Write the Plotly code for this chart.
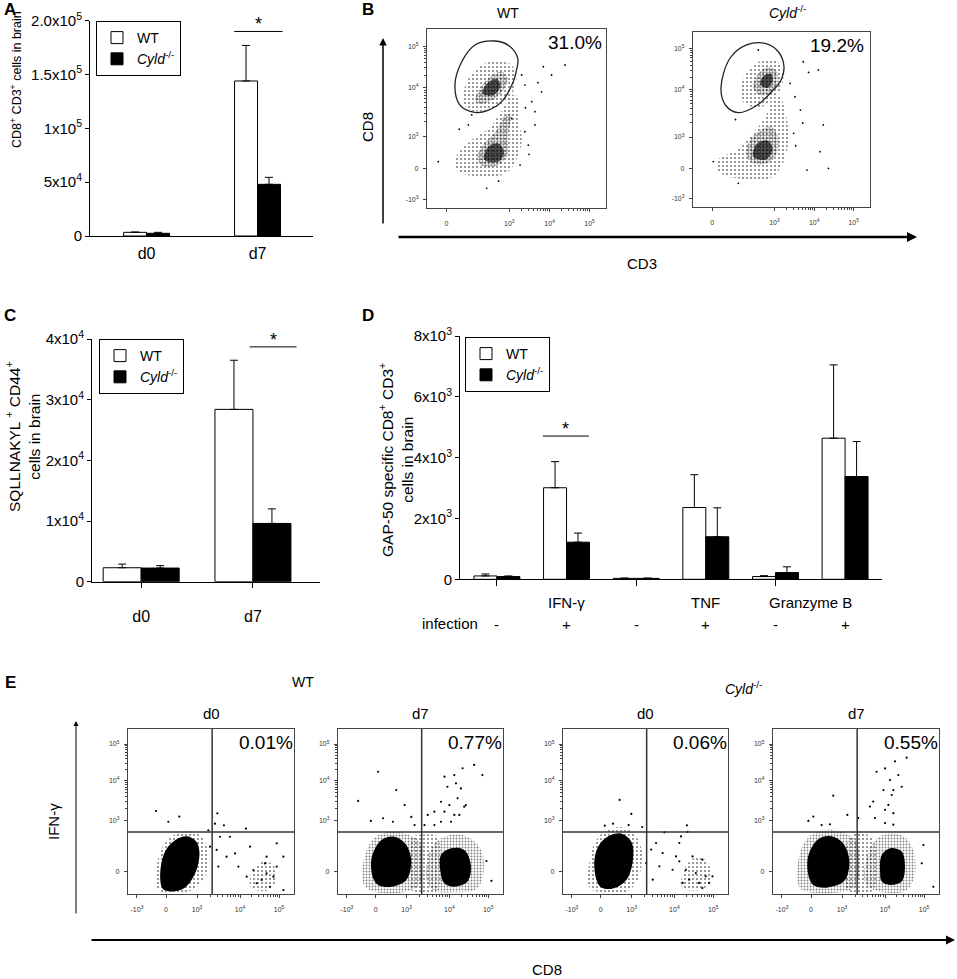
import math
import plotly.graph_objects as go

W, H = 957, 979
FONT = 'Arial, Liberation Sans, sans-serif'

# =============================================================================
# DATA - bar panels
# =============================================================================
days = ['d0', 'd7']

# A: CD8+ CD3+ cells in brain
a_wt = [3400, 144000]
a_wt_err = [300, 33000]
a_ko = [2500, 48000]
a_ko_err = [900, 6500]

# C: SQLLNAKYL+ CD44+ cells in brain
c_wt = [2300, 28400]
c_wt_err = [600, 8100]
c_ko = [2250, 9600]
c_ko_err = [400, 2400]

# D: GAP-50 specific CD8+ CD3+ cells in brain
d_infection = ['-', '+', '-', '+', '-', '+']
d_cytokines = ['IFN-γ', 'TNF', 'Granzyme B']
d_wt = [110, 3010, 30, 2360, 90, 4640]
d_wt_err = [65, 860, 10, 1080, 30, 2410]
d_ko = [90, 1220, 30, 1400, 220, 3380]
d_ko_err = [20, 300, 10, 950, 190, 1150]

# =============================================================================
# DATA - flow plots (channel units 0-100)
# =============================================================================
b_xticks = [10.8, 46.0, 68.5, 90.8]
b_xtick_text = ['0', '10<sup>3</sup>', '10<sup>4</sup>', '10<sup>5</sup>']
b_yticks = [4.8, 22.2, 40.0, 67.1, 90.4]
b_ytick_text = ['-10<sup>3</sup>', '0', '10<sup>3</sup>', '10<sup>4</sup>', '10<sup>5</sup>']

e_xticks = [5.4, 22.9, 41.6, 67.5, 91.0]
e_xtick_text = ['-10<sup>3</sup>', '0', '10<sup>3</sup>', '10<sup>4</sup>', '10<sup>5</sup>']
e_yticks = [13.9, 44.8, 68.5, 90.9]
e_ytick_text = ['0', '10<sup>3</sup>', '10<sup>4</sup>', '10<sup>5</sup>']
e_quadrant = (50.7, 37.6)

# B, WT
b_wt_gate = [(38, 93.3), (46, 90.5), (50.7, 83.6), (50, 77), (48.2, 70.6), (41.7, 59.4),
             (34, 54.5), (26.8, 53.4), (18.4, 57.5), (15.6, 68.7), (19.4, 81.7), (26.8, 91.1)]
b_wt_cd8_halo = [(20, 60), (22, 70), (28, 78), (37, 82), (47, 80), (50, 73), (47, 63),
                 (40, 57), (30, 54), (23, 55)]
b_wt_cd8_core = [(27, 60), (30, 67), (36, 74), (42, 76), (45, 72), (42, 65), (36, 60), (30, 58)]
b_wt_cd8_inner = [(31, 64), (34, 70), (39, 72), (41, 68), (37, 63)]
b_wt_neg_halo = [(15.6, 24), (17, 30), (25, 38), (35, 45), (42, 55), (47, 63), (51, 62),
                 (51, 50), (53, 38), (50, 27), (45, 20), (35, 17), (25, 18), (18, 20)]
b_wt_neg_core = [(28, 28), (32, 36), (38, 42), (44, 52), (47, 52), (45, 40), (45, 30),
                 (40, 24), (32, 23)]
b_wt_neg_inner = [(32, 27), (34, 34), (40, 36), (43, 31), (40, 26)]
b_wt_dots = [(65, 78.9), (69.6, 74.3), (77.1, 79.9), (54.7, 68.7), (58.5, 59.4), (60.3, 53.8),
             (54.7, 42.6), (56.6, 35.1), (52, 24), (33.3, 11), (6.3, 25.9), (23.1, 46.4),
             (25, 52), (52.9, 74.3), (64, 64.9), (47.3, 50), (60.3, 46.4), (57, 30),
             (55, 56), (62, 70), (18, 44), (40, 15)]

# B, Cyld-/-
b_ko_gate = [(40.7, 93.5), (48, 89), (51.4, 80.2), (49.5, 72), (45.4, 66.9), (36, 58),
             (25.6, 53.9), (18.5, 58), (15.8, 67.8), (20.9, 85), (30.3, 92.6)]
b_ko_cd8_halo = [(27, 62), (28, 72), (33, 80), (40, 84), (48, 83), (51, 76), (49, 66),
                 (43, 59), (34, 57)]
b_ko_cd8_core = [(34, 68), (36, 75), (42, 80), (47, 78), (48, 71), (44, 65), (38, 64)]
b_ko_cd8_inner = [(38, 70), (40, 75), (44, 76), (45, 72), (42, 68)]
b_ko_neg_halo = [(13.4, 22), (15, 28), (24, 32), (32, 40), (40, 50), (45, 60), (49, 63),
                 (52, 55), (54, 42), (52, 28), (46, 18), (38, 15), (28, 16), (18, 18)]
b_ko_neg_core = [(30, 30), (32, 38), (37, 43), (44, 46), (48, 40), (47, 30), (42, 25), (34, 25)]
b_ko_neg_inner = [(34, 29), (36, 36), (42, 38), (45, 33), (41, 27)]
b_ko_dots = [(62.3, 83), (70.8, 78.3), (65.3, 76.9), (73.6, 46.9), (71.7, 31.6), (76.5, 22.1),
             (64.4, 21.1), (56.9, 42.1), (60.7, 55.4), (54.9, 70.6), (25.6, 13.5),
             (11.5, 25.9), (36.9, 89.7), (57.6, 63), (58, 35), (62, 48), (24, 50)]

# E, WT d0
e_wt0_core = [(19.5, 8), (20, 18), (23, 27), (29, 33), (35.5, 35), (41, 32), (43, 26),
              (42, 17), (38, 8), (33, 3), (26, 1.5), (21, 3)]
e_wt0_halo = [(17, 5), (17.5, 18), (21, 29), (28, 36), (36, 38), (43, 36), (47, 30),
              (49, 22), (46, 10), (40, 3), (30, 0.5), (20, 0.8)]
e_wt0_cd8 = [(74, 4), (75, 14), (82, 20), (88, 17), (89, 8), (84, 2)]
e_wt0_dots = [(16.9, 50.3), (30.9, 46.9), (53.8, 48.9), (24.3, 43.8), (52.4, 42.6),
              (57.8, 41.6), (71.1, 39.6), (55.4, 34.7), (61.4, 34.7), (53.4, 26.7),
              (59.4, 22.6), (54.4, 16.6), (64.5, 24.6), (73.5, 28.7), (89.6, 30.7),
              (93.6, 22.6), (83.5, 22.6), (75.5, 14.5), (80.5, 8.5), (83.5, 12.5),
              (87.6, 10.5), (77.5, 6.5), (85.5, 4.4), (82.5, 18.5), (71.5, 10.5),
              (89.6, 16.6), (93.6, 2.4), (66.5, 16.6), (49.4, 28.7), (48.4, 38.6)]

# E, WT d7
e_wt7_core_l = [(21.3, 9.5), (20.3, 21.6), (26.3, 32.7), (34.3, 34.7), (41.4, 29.7),
                (44.4, 19.6), (41.4, 8.5), (32.3, 4.4), (24.3, 5.5)]
e_wt7_halo_l = [(16, 5), (16, 22), (22, 34), (33, 38), (42, 36), (49, 32), (51, 20),
                (50, 6), (40, 1), (25, 0.8)]
e_wt7_core_r = [(62.1, 13.5), (62.4, 23.6), (68.5, 27.7), (76.5, 26.7), (80.5, 17.6),
                (78.5, 7.5), (70.5, 4.4), (64.4, 6.5)]
e_wt7_halo_r = [(54, 8), (55, 24), (60, 32), (70, 36), (80, 34), (87, 26), (88, 12),
                (84, 3), (70, 1), (58, 2)]
e_wt7_mid = [(45, 2), (45, 34), (52, 36), (60, 35), (62, 20), (60, 2)]
e_wt7_dots = [(64.5, 71.1), (70.5, 72.1), (71.5, 67.1), (66.3, 65.0), (74.5, 64.0),
              (62.4, 55.9), (67.5, 53.9), (72.5, 58.0), (76.5, 52.9), (58.4, 49.9),
              (54.4, 47.9), (64.5, 49.9), (70.5, 47.9), (68.5, 43.8), (73.5, 47.9),
              (77.5, 53.9), (82.5, 78.2), (87.5, 72.1), (75.5, 76.2), (62.4, 43.8),
              (58.4, 41.8), (52.4, 41.8), (24.3, 74.1), (35.3, 63.0), (12.2, 56.4),
              (40.4, 53.9), (27.3, 45.9), (19.9, 44.3), (33.3, 43.8), (44.4, 46.7),
              (46.4, 41.8), (90, 20), (93, 8)]

# E, Cyld-/- d0
e_ko0_core = [(20.3, 8.5), (19.3, 22.6), (24.3, 32.7), (34.3, 36.8), (41.4, 31.7),
              (42.4, 20.6), (38.4, 8.5), (30.3, 3.4), (23.3, 4.0)]
e_ko0_halo = [(16, 4), (16.5, 22), (21, 34), (30, 40), (38, 40), (45, 34), (48, 24),
              (45, 8), (38, 1), (25, 0.8)]
e_ko0_cd8 = [(72, 4), (74, 16), (80, 22), (87, 20), (90, 10), (85, 3)]
e_ko0_dots = [(34.3, 57), (41.4, 48.5), (25.3, 41.4), (30.3, 42.6), (39.8, 41.8),
              (48, 40.6), (75.1, 41.6), (75.5, 37.6), (61.4, 37.4), (71.5, 34.9),
              (70.5, 30.9), (56.4, 30.9), (53.4, 26.9), (60.4, 24.8), (68.5, 22.8),
              (70.5, 19.8), (78.5, 22.8), (84.5, 20.8), (74.5, 14.7), (80.5, 12.7),
              (86.5, 10.7), (88.6, 6.7), (82.5, 6.7), (76.5, 8.7), (66.4, 14.7),
              (54.4, 8.7), (90.6, 10.7), (84.5, 3.6), (58.4, 16.8), (72.5, 6.7),
              (50.4, 18.8)]

# E, Cyld-/- d7
e_ko7_core_l = [(22, 9), (21, 22), (27, 33), (35, 35), (42, 31), (46, 20), (43, 8),
                (33, 4), (25, 5)]
e_ko7_halo_l = [(16, 4), (16, 24), (22, 35), (33, 39), (43, 37), (50, 32), (52, 20),
                (50, 5), (40, 1), (25, 0.8)]
e_ko7_core_r = [(64.5, 13.5), (65.5, 23.6), (70.5, 27.7), (77.5, 25.7), (79.5, 16.6),
                (77.5, 7.5), (70.5, 5.5), (65.5, 7.5)]
e_ko7_halo_r = [(56, 6), (57, 24), (62, 33), (71, 37), (80, 34), (85, 25), (85, 10),
                (80, 2), (66, 1)]
e_ko7_mid = [(45, 2), (46, 34), (52, 37), (60, 34), (62, 18), (60, 2)]
e_ko7_dots = [(80.5, 82.6), (73.5, 80.4), (62.4, 74.1), (67.5, 76.1), (75.5, 72.1),
              (70.5, 69.1), (77.5, 65), (66.5, 63), (72.5, 63), (71.5, 60), (60.4, 56),
              (69.5, 54), (58.4, 53), (67.5, 51), (72.5, 49), (61.4, 46), (67.5, 43),
              (72.5, 42), (51.4, 46), (36.3, 59.6), (24.3, 46.9), (21.3, 44.3),
              (44.8, 47.9), (34.3, 42.2), (29.3, 41.8), (90.6, 29.7), (89.6, 18.6),
              (96.6, 4.4)]

# =============================================================================
# HELPERS
# =============================================================================
def px(x):
    return x / W


def py(y):
    return 1 - y / H


layout_axes = {}
annotations = []
shapes = []


def ann(text, x, y, size=14, **kw):
    d = dict(text=text, x=px(x), y=py(y), xref='paper', yref='paper', showarrow=False,
             xanchor='center', yanchor='middle',
             font=dict(size=size, family=FONT, color='black'))
    d.update(kw)
    annotations.append(d)


def arrow(x_head, y_head, ax, ay, width, size):
    annotations.append(dict(x=px(x_head), y=py(y_head), xref='paper', yref='paper',
                            ax=ax, ay=ay, showarrow=True, arrowhead=2, arrowsize=size,
                            arrowwidth=width, arrowcolor='black', text=''))


def bar_axes(n, box, xrange, yrange, ytickvals, ytick_text, xtick_kw):
    left, right, top, bottom = box
    key = '' if n == 1 else str(n)
    layout_axes[f'xaxis{key}'] = dict(
        domain=[px(left), px(right)], anchor=f'y{key}', range=xrange, automargin=False,
        showline=True, linecolor='black', linewidth=1, showgrid=False, zeroline=False,
        tickfont=dict(size=16, family=FONT, color='black'), **xtick_kw)
    layout_axes[f'yaxis{key}'] = dict(
        domain=[py(bottom), py(top)], anchor=f'x{key}', range=yrange, automargin=False,
        showline=True, linecolor='black', linewidth=1, showgrid=False, zeroline=False,
        ticks='outside', ticklen=4, tickcolor='black',
        tickvals=ytickvals, ticktext=ytick_text,
        tickfont=dict(size=15, family=FONT, color='black'))


def add_bars(fig, n, wt, wt_err, ko, ko_err, width, legend):
    key = '' if n == 1 else str(n)
    pos = list(range(len(wt)))
    for vals, err, name, color, off in [
        (wt, wt_err, 'WT', 'white', -width),
        (ko, ko_err, '<i>Cyld</i><sup>-/-</sup>', 'black', 0),
    ]:
        fig.add_trace(go.Bar(
            x=pos, y=vals, width=width, offset=off, name=name,
            marker=dict(color=color, line=dict(color='black', width=1)),
            error_y=dict(type='data', array=err, arrayminus=[0] * len(err), symmetric=False,
                         color='black', thickness=1, width=4),
            xaxis=f'x{key}', yaxis=f'y{key}', legend=legend, hoverinfo='skip'))


def sig_bar(n, x0, x1, y):
    key = '' if n == 1 else str(n)
    shapes.append(dict(type='line', xref=f'x{key}', yref=f'y{key}', x0=x0, x1=x1, y0=y, y1=y,
                       line=dict(color='black', width=1)))
    annotations.append(dict(text='*', x=(x0 + x1) / 2, y=y, xref=f'x{key}', yref=f'y{key}',
                            showarrow=False, xanchor='center', yanchor='bottom', yshift=-5,
                            font=dict(size=18, family=FONT, color='black')))


def log_minor(major):
    # minor tick marks between the log decades of a logicle axis
    out = []
    for lo, hi in zip(major[:-1], major[1:]):
        out += [lo + math.log10(k) * (hi - lo) for k in range(2, 10)]
    return out


def flow_axes(n, box, xt, xt_txt, yt, yt_txt):
    left, right, top, bottom = box
    common = dict(range=[0, 100], showline=True, mirror=True, linecolor='#444', linewidth=1.2,
                  showgrid=False, zeroline=False, ticks='outside', ticklen=3,
                  tickcolor='#444', tickfont=dict(size=7, family=FONT, color='#333'),
                  fixedrange=True, automargin=False, layer='above traces')
    layout_axes[f'xaxis{n}'] = dict(
        domain=[px(left), px(right)], anchor=f'y{n}', tickvals=xt, ticktext=xt_txt,
        ticklabelstandoff=5,
        minor=dict(tickmode='array', tickvals=log_minor(xt[-3:]), ticks='outside',
                   ticklen=2, tickcolor='#444'), **common)
    layout_axes[f'yaxis{n}'] = dict(
        domain=[py(bottom), py(top)], anchor=f'x{n}', tickvals=yt, ticktext=yt_txt,
        ticklabelstandoff=3,
        minor=dict(tickmode='array', tickvals=log_minor(yt[-3:]), ticks='outside',
                   ticklen=2, tickcolor='#444'), **common)


PATTERNS = {
    'sparse': dict(size=4, solidity=0.22),
    'fuzzy': dict(size=3, solidity=0.3),
    'dense': dict(size=3, solidity=0.45),
}


def add_cloud(fig, n, verts, style):
    xs = [v[0] for v in verts] + [verts[0][0]]
    ys = [v[1] for v in verts] + [verts[0][1]]
    if style in PATTERNS:
        kw = dict(fillcolor='rgba(0,0,0,0)',
                  fillpattern=dict(shape='.', fgcolor='black', bgcolor='rgba(0,0,0,0)',
                                   **PATTERNS[style]))
    elif style == 'dark':
        kw = dict(fillcolor='rgba(0,0,0,0.65)')
    else:
        kw = dict(fillcolor='black')
    fig.add_trace(go.Scatter(x=xs, y=ys, mode='lines', fill='toself',
                             line=dict(width=0, shape='spline', smoothing=1),
                             xaxis=f'x{n}', yaxis=f'y{n}', hoverinfo='skip',
                             showlegend=False, **kw))


def add_dots(fig, n, pts, size=2.2):
    fig.add_trace(go.Scatter(x=[p[0] for p in pts], y=[p[1] for p in pts], mode='markers',
                             marker=dict(size=size, color='black'),
                             xaxis=f'x{n}', yaxis=f'y{n}', hoverinfo='skip', showlegend=False))


def add_gate(fig, n, verts):
    xs = [v[0] for v in verts] + [verts[0][0]]
    ys = [v[1] for v in verts] + [verts[0][1]]
    fig.add_trace(go.Scatter(x=xs, y=ys, mode='lines',
                             line=dict(width=1.3, color='#222', shape='spline', smoothing=1),
                             xaxis=f'x{n}', yaxis=f'y{n}', hoverinfo='skip', showlegend=False))


def quadrant(n, qx, qy):
    for d in [dict(x0=qx, x1=qx, y0=0, y1=100), dict(x0=0, x1=100, y0=qy, y1=qy)]:
        shapes.append(dict(type='line', xref=f'x{n}', yref=f'y{n}',
                           line=dict(color='#333', width=1.5), **d))


# =============================================================================
# FIGURE
# =============================================================================
fig = go.Figure()

# ---- A ----
bar_axes(1, (90, 313, 20.7, 236), [-0.51, 1.5], [0, 2e5],
         [0, 5e4, 1e5, 1.5e5, 2e5],
         ['0', '5x10<sup>4</sup>', '1x10<sup>5</sup>', '1.5x10<sup>5</sup>', '2.0x10<sup>5</sup>'],
         dict(tickvals=[0, 1], ticktext=days, ticks='', ticklabelstandoff=3))
add_bars(fig, 1, a_wt, a_wt_err, a_ko, a_ko_err, 0.207, 'legend')
sig_bar(1, 0.79, 1.225, 1.9e5)
ann('<b>A</b>', 10, 10, size=17)
ann('CD8<sup>+</sup> CD3<sup>+</sup> cells in brain', 16, 80, size=12.5, textangle=-90)

# ---- C ----
bar_axes(4, (92, 320, 339, 581.7), [-0.44, 1.6], [0, 4e4],
         [0, 1e4, 2e4, 3e4, 4e4],
         ['0', '1x10<sup>4</sup>', '2x10<sup>4</sup>', '3x10<sup>4</sup>', '4x10<sup>4</sup>'],
         dict(tickvals=[0, 1], ticktext=days, ticks='outside', ticklen=5, tickcolor='black',
              ticklabelstandoff=15))
add_bars(fig, 4, c_wt, c_wt_err, c_ko, c_ko_err, 0.34, 'legend2')
sig_bar(4, 0.97, 1.39, 38700)
ann('<b>C</b>', 10, 315, size=17)
ann('SQLLNAKYL <sup>+</sup> CD44<sup>+</sup><br>cells in brain', 23, 437, size=15.5,
    textangle=-90)

# ---- D ----
bar_axes(5, (460, 882, 336, 579.3), [-0.53, 5.53], [0, 8000],
         [0, 2000, 4000, 6000, 8000],
         ['0', '2x10<sup>3</sup>', '4x10<sup>3</sup>', '6x10<sup>3</sup>', '8x10<sup>3</sup>'],
         dict(tickvals=[0, 2, 4], ticktext=['', '', ''], ticks='outside', ticklen=6,
              tickcolor='black'))
add_bars(fig, 5, d_wt, d_wt_err, d_ko, d_ko_err, 0.33, 'legend3')
sig_bar(5, 0.66, 1.32, 4710)
ann('<b>D</b>', 368, 315, size=17)
ann('GAP-50 specific CD8<sup>+</sup> CD3<sup>+</sup><br>cells in brain', 396, 460, size=15.5,
    textangle=-90)
for label, xpos in zip(d_cytokines, [1, 3, 4.5]):
    annotations.append(dict(text=label, x=xpos, y=py(602), xref='x5', yref='paper',
                            showarrow=False, xanchor='center', yanchor='middle',
                            font=dict(size=15, family=FONT, color='black')))
for i, sign in enumerate(d_infection):
    annotations.append(dict(text=sign, x=i, y=py(624), xref='x5', yref='paper',
                            showarrow=False, xanchor='center', yanchor='middle',
                            font=dict(size=15, family=FONT, color='black')))
ann('infection', 450, 623, size=15)

# ---- B ----
b_wt_box = (427, 606, 29, 208)
b_ko_box = (693, 870, 32, 207)
flow_axes(2, b_wt_box, b_xticks, b_xtick_text, b_yticks, b_ytick_text)
flow_axes(3, b_ko_box, b_xticks, b_xtick_text, b_yticks, b_ytick_text)
for n, halo, core, inner, nhalo, ncore, ninner, dots, gate in [
    (2, b_wt_cd8_halo, b_wt_cd8_core, b_wt_cd8_inner, b_wt_neg_halo, b_wt_neg_core,
     b_wt_neg_inner, b_wt_dots, b_wt_gate),
    (3, b_ko_cd8_halo, b_ko_cd8_core, b_ko_cd8_inner, b_ko_neg_halo, b_ko_neg_core,
     b_ko_neg_inner, b_ko_dots, b_ko_gate),
]:
    add_cloud(fig, n, halo, 'sparse')
    add_cloud(fig, n, core, 'dense')
    add_cloud(fig, n, inner, 'dark')
    add_cloud(fig, n, nhalo, 'sparse')
    add_cloud(fig, n, ncore, 'dense')
    add_cloud(fig, n, ninner, 'dark')
    add_dots(fig, n, dots, size=1.8)
    add_gate(fig, n, gate)
ann('<b>B</b>', 368, 10, size=17)
ann('WT', 508, 13, size=14)
ann('<i>Cyld</i><sup>-/-</sup>', 787, 12, size=14)
ann('31.0%', 604, 43, size=19, xanchor='right')
ann('19.2%', 866, 46, size=19, xanchor='right')
ann('CD8', 367, 127, size=15, textangle=-90)
ann('CD3', 642, 263, size=15)
arrow(383, 38, 0, 187, 1.5, 1)
arrow(917, 237, -520, 0, 2.5, 0.8)

# ---- E ----
e_boxes = [(128, 294, 729, 894), (338, 503, 729, 894), (563, 728, 729, 894),
           (773, 939, 729, 894)]
e_pcts = ['0.01%', '0.77%', '0.06%', '0.55%']
e_days = ['d0', 'd7', 'd0', 'd7']
for k, box in enumerate(e_boxes):
    n = 6 + k
    flow_axes(n, box, e_xticks, e_xtick_text, e_yticks, e_ytick_text)
    quadrant(n, *e_quadrant)
    ann(e_pcts[k], box[1] + 1, 742, size=19, xanchor='right')
    ann(e_days[k], (box[0] + box[1]) / 2, 713, size=15)

add_cloud(fig, 6, e_wt0_halo, 'sparse')
add_cloud(fig, 6, e_wt0_core, 'solid')
add_cloud(fig, 6, e_wt0_cd8, 'sparse')
add_dots(fig, 6, e_wt0_dots)

for n, hl, cl, hr, cr, mid, dots in [
    (7, e_wt7_halo_l, e_wt7_core_l, e_wt7_halo_r, e_wt7_core_r, e_wt7_mid, e_wt7_dots),
    (9, e_ko7_halo_l, e_ko7_core_l, e_ko7_halo_r, e_ko7_core_r, e_ko7_mid, e_ko7_dots),
]:
    add_cloud(fig, n, mid, 'sparse')
    add_cloud(fig, n, hl, 'fuzzy')
    add_cloud(fig, n, hr, 'fuzzy')
    add_cloud(fig, n, cl, 'solid')
    add_cloud(fig, n, cr, 'solid')
    add_dots(fig, n, dots)

add_cloud(fig, 8, e_ko0_halo, 'sparse')
add_cloud(fig, 8, e_ko0_core, 'solid')
add_cloud(fig, 8, e_ko0_cd8, 'sparse')
add_dots(fig, 8, e_ko0_dots)

ann('<b>E</b>', 10, 682, size=17)
ann('WT', 303, 682, size=14)
ann('<i>Cyld</i><sup>-/-</sup>', 743, 688, size=14)
ann('IFN-γ', 53, 822, size=15, textangle=-90)
ann('CD8', 547, 969, size=15)
arrow(76, 721, 0, 194, 1, 1)
arrow(955, 940, -865, 0, 2, 0.9)

# ---- legends ----
legend_style = dict(xanchor='left', yanchor='top', bgcolor='white', bordercolor='black',
                    borderwidth=1, font=dict(size=14, family=FONT, color='black'),
                    itemwidth=30, tracegroupgap=0, traceorder='normal')

fig.update_layout(
    width=W, height=H,
    margin=dict(l=0, r=0, t=0, b=0, pad=0, autoexpand=False),
    paper_bgcolor='white', plot_bgcolor='white',
    font=dict(family=FONT, color='black'),
    barmode='overlay',
    showlegend=True,
    legend=dict(x=px(96), y=py(21), **legend_style),
    legend2=dict(x=px(99), y=py(339), **legend_style),
    legend3=dict(x=px(465), y=py(337), **legend_style),
    annotations=annotations,
    shapes=shapes,
    **layout_axes,
)

# the page body has a default 8px margin; drop it so the figure fills the window
fig.write_html("out.html", config={'displayModeBar': False},
               post_script="document.body.style.margin = '0px';")
